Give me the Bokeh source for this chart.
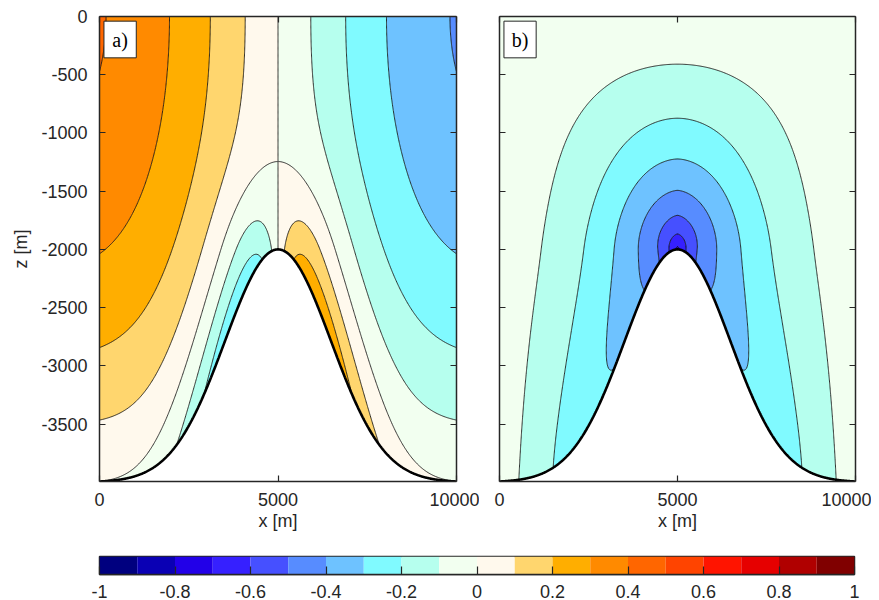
import numpy as np
from bokeh.plotting import figure
from bokeh.layouts import column, row
from bokeh.models import Range1d, FixedTicker, LinearAxis
from bokeh.embed import file_html
from bokeh.resources import INLINE

# ---------------- data ----------------
levels = [round(-1 + 0.1 * i, 1) for i in range(21)]
colors = ["#00007f", "#0a00b4", "#2200e8", "#3620ff", "#4650ff",
          "#578cff", "#6ec2ff", "#80faff", "#b6ffee", "#f2fff0",
          "#fff9ed", "#ffd66e", "#ffae00", "#ff8a00", "#ff6600",
          "#ff4400", "#ff1400", "#e60000", "#b00000", "#800000"]
x_ticks = [0, 5000, 10000]
x_tick_labels = ["0", "5000", "10000"]
z_ticks = [0, -500, -1000, -1500, -2000, -2500, -3000, -3500]
z_tick_labels = ["0", "-500", "-1000", "-1500", "-2000", "-2500", "-3000", "-3500"]
cbar_ticks = [-1, -0.8, -0.6, -0.4, -0.2, 0, 0.2, 0.4, 0.6, 0.8, 1]
cbar_labels = ["-1", "-0.8", "-0.6", "-0.4", "-0.2", "0", "0.2", "0.4", "0.6", "0.8", "1"]
panel_labels = ["a)", "b)"]

# seamount geometry
x_center = 5000.0
depth = 4000.0
hill_height = 2000.0
hill_width = 2100.0

# field parameters (panel b: symmetric field, panel a: antisymmetric field)
u_peak = 0.73
u_decay = 900.0
u_cap = 0.03
u_cap_scale = 180.0
aspect_core = 2.1
aspect_deep = 0.55
top_taper = 280.0
wall_taper = 0.95
flank_damp = 0.18
w_top = 0.42
w_wavelength = 24000.0
near_power = 3

FONT = "Liberation Sans"
AX = "#262626"
TICK_FONT = "18px"


def zb(x):
    return -depth + hill_height * np.exp(-((x - x_center) / hill_width) ** 2)


def dzb(x):
    return hill_height * np.exp(-((x - x_center) / hill_width) ** 2) * (-2 * (x - x_center) / hill_width ** 2)


def u_field(X, Z):
    d = X - x_center
    zpk = -depth + hill_height
    h = np.maximum(Z - zpk, 0)
    deep_km = 0.3 * np.log1p(np.exp((-1800 - Z) / 300))
    asp = aspect_core + aspect_deep * deep_km
    rho = np.sqrt((d / asp) ** 2 + h ** 2)
    r = rho / u_cap_scale
    core = u_peak * np.exp(-rho / u_decay) - u_cap * r * np.exp(1 - r)
    taper = (1 - 0.85 * np.exp(Z / top_taper)) * (1 - wall_taper * (d / 5000) ** 8)
    damp = 1 - flank_damp * np.abs(dzb(X)) * np.exp(-np.maximum(Z - zb(X), 0) / 300)
    return -core * taper * damp


def w_field(X, Z):
    d = X - x_center
    sig = Z / zb(X)
    far = -w_top * np.sin(2 * np.pi * d / w_wavelength) * (1 - sig ** 2)
    near = u_field(X, Z) * sig ** near_power * dzb(X)
    return far + near


xs = np.linspace(0, 10000, 402)
zs = np.linspace(-4000, 0, 401)
X, Z = np.meshgrid(xs, zs)
fields = [w_field(X, Z), u_field(X, Z)]
zmin = float(zb(np.array([0.0]))[0])
xf = np.linspace(0, 10000, 801)


def style_axis(a, ticks, labels):
    a.ticker = FixedTicker(ticks=ticks)
    a.axis_line_color = AX
    a.axis_line_width = 1.5
    a.major_tick_line_color = AX
    a.major_tick_line_width = 1.2
    a.major_tick_in = 6
    a.major_tick_out = 0
    a.minor_tick_line_color = None
    if labels is None:
        a.major_label_overrides = {t: "" for t in ticks}
        a.major_label_text_color = None
        a.major_label_standoff = 0
    else:
        a.major_label_overrides = {t: s for t, s in zip(ticks, labels)}
        a.major_label_text_font = FONT
        a.major_label_text_font_size = TICK_FONT
        a.major_label_text_color = AX


def make_panel(field, label, show_ylabels, width, bl, br):
    p = figure(width=width, height=541, min_border_left=bl, min_border_right=br,
               min_border_top=16, min_border_bottom=60,
               x_range=Range1d(0, 10000), y_range=Range1d(zmin, 0),
               output_backend="svg", toolbar_location=None,
               x_axis_location=None, y_axis_location=None)
    p.grid.visible = False
    p.outline_line_color = None
    p.background_fill_color = "white"
    p.contour(x=xs, y=zs, z=field, levels=levels, fill_color=colors,
              line_color="black", line_width=0.8)
    p.varea(x=xf, y1=zmin - 10, y2=zb(xf), fill_color="white")
    p.line(xf, zb(xf), line_color="black", line_width=2.6)
    p.quad(left=[125], right=[1030], top=[-40], bottom=[-355],
           fill_color="white", line_color=AX, line_width=1)
    p.text(x=[578], y=[-200], text=[label], text_align="center",
           text_baseline="middle", text_font_size="20px", text_font=FONT,
           text_color="black")

    xb = LinearAxis()
    style_axis(xb, x_ticks, x_tick_labels)
    xb.major_label_standoff = 11
    xb.axis_label = "x [m]"
    xb.axis_label_text_font = FONT
    xb.axis_label_text_font_size = TICK_FONT
    xb.axis_label_text_font_style = "normal"
    xb.axis_label_text_color = AX
    xb.axis_label_standoff = 2
    p.add_layout(xb, "below")

    yl = LinearAxis()
    style_axis(yl, z_ticks, z_tick_labels if show_ylabels else None)
    if show_ylabels:
        yl.major_label_standoff = 12
        yl.axis_label = "z [m]"
        yl.axis_label_text_font = FONT
        yl.axis_label_text_font_size = TICK_FONT
        yl.axis_label_text_font_style = "normal"
        yl.axis_label_text_color = AX
        yl.axis_label_standoff = 7
    p.add_layout(yl, "left")

    xt = LinearAxis()
    style_axis(xt, x_ticks, None)
    p.add_layout(xt, "above")
    yr = LinearAxis()
    style_axis(yr, z_ticks, None)
    p.add_layout(yr, "right")
    return p


p1 = make_panel(fields[0], panel_labels[0], True, 479, 99, 23)
p2 = make_panel(fields[1], panel_labels[1], False, 392, 20, 16)

p3 = figure(width=871, height=59, min_border_left=99, min_border_right=17,
            min_border_top=15, min_border_bottom=26,
            x_range=Range1d(-1, 1), y_range=Range1d(0, 1),
            output_backend="svg", toolbar_location=None,
            x_axis_location=None, y_axis_location=None)
p3.grid.visible = False
p3.outline_line_color = AX
p3.outline_line_width = 1.5
p3.quad(left=levels[:-1], right=levels[1:], bottom=0, top=1,
        fill_color=colors, line_color=None)
cb = LinearAxis()
style_axis(cb, cbar_ticks, cbar_labels)
cb.major_tick_in = 8
cb.major_label_standoff = 10
p3.add_layout(cb, "below")

layout = column(row(p1, p2), p3)
open("out.html", "w").write(file_html(layout, INLINE))
